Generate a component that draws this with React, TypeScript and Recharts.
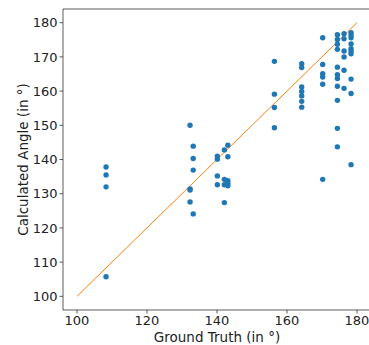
import React from 'react';
import { ScatterChart, Scatter, XAxis, YAxis, ReferenceLine, Label } from 'recharts';

// ground truth (x) and calculated angle (y), in degrees
const groundTruth = [
  108.3, 108.3, 108.3, 108.3,
  132.3, 132.3, 132.3, 132.3,
  133.2, 133.2, 133.2, 133.2,
  140.1, 140.1, 140.1, 140.1,
  142.1, 142.1, 142.1, 142.1,
  143.1, 143.1, 143.1, 143.1, 143.1,
  156.4, 156.4, 156.4, 156.4,
  164.2, 164.2, 164.2, 164.2, 164.2, 164.2, 164.2,
  170.2, 170.2, 170.2, 170.2, 170.2, 170.2,
  174.4, 174.4, 174.4, 174.4, 174.4, 174.4, 174.4, 174.4, 174.4, 174.4, 174.4,
  176.3, 176.3, 176.3, 176.3, 176.3, 176.3,
  178.3, 178.3, 178.3, 178.3, 178.3, 178.3, 178.3, 178.3, 178.3, 178.3,
];
const calculated = [
  137.8, 135.5, 132.0, 105.7,
  150.0, 131.4, 131.1, 127.6,
  143.9, 140.3, 136.9, 124.1,
  141.0, 140.1, 135.2, 132.6,
  142.8, 134.2, 132.6, 127.4,
  144.2, 140.8, 133.8, 133.0, 132.3,
  168.7, 159.1, 155.2, 149.3,
  168.0, 166.9, 161.2, 159.9, 158.6, 157.0, 155.3,
  175.6, 167.8, 165.1, 164.1, 162.0, 134.2,
  176.5, 175.1, 173.7, 172.2, 167.0, 164.8, 163.7, 161.4, 157.3, 149.1, 143.7,
  176.8, 175.3, 171.7, 170.0, 166.1, 160.8,
  177.1, 176.4, 175.6, 173.8, 172.4, 171.7, 170.9, 163.5, 159.3, 138.5,
];
const xTicks = [100, 120, 140, 160, 180];
const yTicks = [100, 110, 120, 130, 140, 150, 160, 170, 180];
const identity = [100, 180];

const points = groundTruth.map((x, i) => ({ x, y: calculated[i] }));

const font = 'DejaVu Sans, sans-serif';
const tickStyle = { fontSize: 13, fill: '#222', fontFamily: font };
const labelStyle = { fontSize: 13.5, fill: '#222', fontFamily: font };

const Dot = (props: any) => <circle cx={props.cx} cy={props.cy} r={2.7} fill="#1f77b4" />;

export default function App() {
  return (
    <div style={{ position: 'absolute', left: 0, top: 0, width: 369, height: 345, overflow: 'hidden', background: '#fff' }}>
      <ScatterChart width={380} height={345} margin={{ top: 9, right: 9, left: 0, bottom: 0 }}>
        <XAxis
          type="number"
          dataKey="x"
          domain={[96, 184]}
          ticks={xTicks}
          height={35}
          tick={tickStyle}
          tickSize={3.5}
          axisLine={{ stroke: '#333', strokeWidth: 0.8 }}
          tickLine={{ stroke: '#333', strokeWidth: 0.8 }}
        >
          <Label value="Ground Truth (in °)" position="insideBottom" offset={3} style={labelStyle} />
        </XAxis>
        <YAxis
          type="number"
          dataKey="y"
          domain={[96, 184]}
          ticks={yTicks}
          width={63}
          tick={tickStyle}
          tickSize={3.5}
          axisLine={{ stroke: '#333', strokeWidth: 0.8 }}
          tickLine={{ stroke: '#333', strokeWidth: 0.8 }}
        >
          <Label value="Calculated Angle (in °)" angle={-90} position="insideLeft" offset={23} style={{ ...labelStyle, textAnchor: 'middle' }} />
        </YAxis>
        <ReferenceLine y={184} stroke="#333" strokeWidth={0.8} />
        <ReferenceLine x={184} stroke="#333" strokeWidth={0.8} />
        <ReferenceLine
          segment={[{ x: identity[0], y: identity[0] }, { x: identity[1], y: identity[1] }]}
          stroke="#ff7f0e"
          strokeWidth={1}
        />
        <Scatter data={points} shape={<Dot />} isAnimationActive={false} />
      </ScatterChart>
    </div>
  );
}
